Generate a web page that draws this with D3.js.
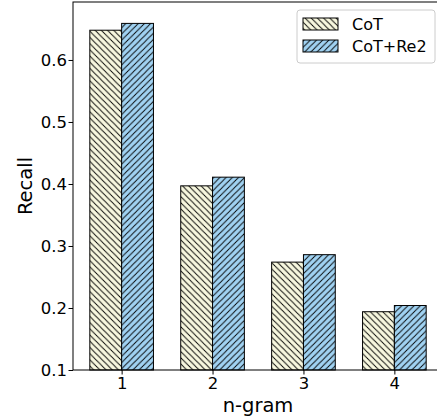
<!DOCTYPE html>
<html>
<head>
<meta charset="utf-8">
<script src="https://cdn.jsdelivr.net/npm/d3@7"></script>
<style>
  body { margin: 0; background: #fff; }
  svg { font-family: "DejaVu Sans", sans-serif; }
</style>
</head>
<body>
<div id="chart"></div>
<script>
// data
var categories = ['1', '2', '3', '4'];
var seriesNames = ['CoT', 'CoT+Re2'];
var cotValues = [0.648, 0.397, 0.274, 0.194];
var re2Values = [0.659, 0.411, 0.286, 0.204];
var yTicks = [0.1, 0.2, 0.3, 0.4, 0.5, 0.6];

var width = 437, height = 419;
var margin = {left: 73, top: 2, right: -6, bottom: 49};
var plotW = width - margin.left - margin.right;
var plotH = height - margin.top - margin.bottom;

var svg = d3.select('#chart').append('svg')
    .attr('width', width)
    .attr('height', height);

// hatch patterns
var defs = svg.append('defs');
function makeHatch(id, fill, forward) {
    var s = 6.2;
    var p = defs.append('pattern')
        .attr('id', id)
        .attr('patternUnits', 'userSpaceOnUse')
        .attr('width', s)
        .attr('height', s);
    p.append('rect').attr('width', s).attr('height', s).attr('fill', fill);
    var d = forward
        ? 'M0,' + s + ' L' + s + ',0 M' + (-s) + ',' + s + ' L' + s + ',' + (-s) + ' M0,' + (2 * s) + ' L' + (2 * s) + ',0'
        : 'M0,0 L' + s + ',' + s + ' M' + (-s) + ',0 L' + s + ',' + (2 * s) + ' M0,' + (-s) + ' L' + (2 * s) + ',' + s;
    p.append('path').attr('d', d).attr('stroke', '#000').attr('stroke-width', 0.9);
}
makeHatch('hatchCot', '#f7f7de', false);
makeHatch('hatchRe2', '#a0d2f2', true);
var fills = ['url(#hatchCot)', 'url(#hatchRe2)'];

var g = svg.append('g').attr('transform', 'translate(' + margin.left + ',' + margin.top + ')');

// numeric x like matplotlib: positions 1..4, bars 0.35 wide
var barW = 0.35;
var x = d3.scaleLinear().domain([0.465, 4.535]).range([0, plotW]);
var y = d3.scaleLinear().domain([0.1, 0.6935]).range([plotH, 0]);

var series = [cotValues, re2Values];
series.forEach(function(vals, si) {
    g.selectAll('.bar' + si)
        .data(vals)
        .enter().append('rect')
        .attr('x', function(d, i) { return x(i + 1 + (si === 0 ? -barW : 0)); })
        .attr('y', function(d) { return y(d); })
        .attr('width', x(barW) - x(0))
        .attr('height', function(d) { return plotH - y(d); })
        .attr('fill', fills[si])
        .attr('stroke', '#000')
        .attr('stroke-width', 1);
});

// axes
var xAxis = d3.axisBottom(x)
    .tickValues([1, 2, 3, 4])
    .tickFormat(function(d) { return categories[d - 1]; })
    .tickSize(4.5).tickPadding(3);
var yAxis = d3.axisLeft(y)
    .tickValues(yTicks)
    .tickFormat(d3.format('.1f'))
    .tickSize(4.5).tickPadding(1.5);

var gx = g.append('g').attr('transform', 'translate(0,' + plotH + ')').call(xAxis);
var gy = g.append('g').call(yAxis);
[gx, gy].forEach(function(a) {
    a.select('.domain').remove();
    a.selectAll('text').attr('font-size', 16.5).attr('fill', '#000').attr('font-family', 'DejaVu Sans');
    a.selectAll('line').attr('stroke', '#000');
});

// frame (spines)
g.append('rect')
    .attr('width', plotW).attr('height', plotH)
    .attr('fill', 'none').attr('stroke', '#000').attr('stroke-width', 1);

// axis labels
svg.append('text')
    .attr('x', margin.left + plotW / 2)
    .attr('y', 412)
    .attr('text-anchor', 'middle')
    .attr('font-size', 19.5)
    .text('n-gram');
svg.append('text')
    .attr('transform', 'translate(32,' + (margin.top + plotH / 2) + ') rotate(-90)')
    .attr('text-anchor', 'middle')
    .attr('font-size', 19.5)
    .text('Recall');

// legend
var leg = svg.append('g').attr('transform', 'translate(297,10)');
leg.append('rect')
    .attr('width', 138).attr('height', 53).attr('rx', 3)
    .attr('fill', '#fff').attr('fill-opacity', 0.8)
    .attr('stroke', '#ccc');
seriesNames.forEach(function(name, i) {
    leg.append('rect')
        .attr('x', 6).attr('y', 8 + i * 22)
        .attr('width', 35).attr('height', 12)
        .attr('fill', fills[i]).attr('stroke', '#000').attr('stroke-width', 1);
    leg.append('text')
        .attr('x', 55).attr('y', 20 + i * 22)
        .attr('font-size', 16)
        .text(name);
});
</script>
</body>
</html>
